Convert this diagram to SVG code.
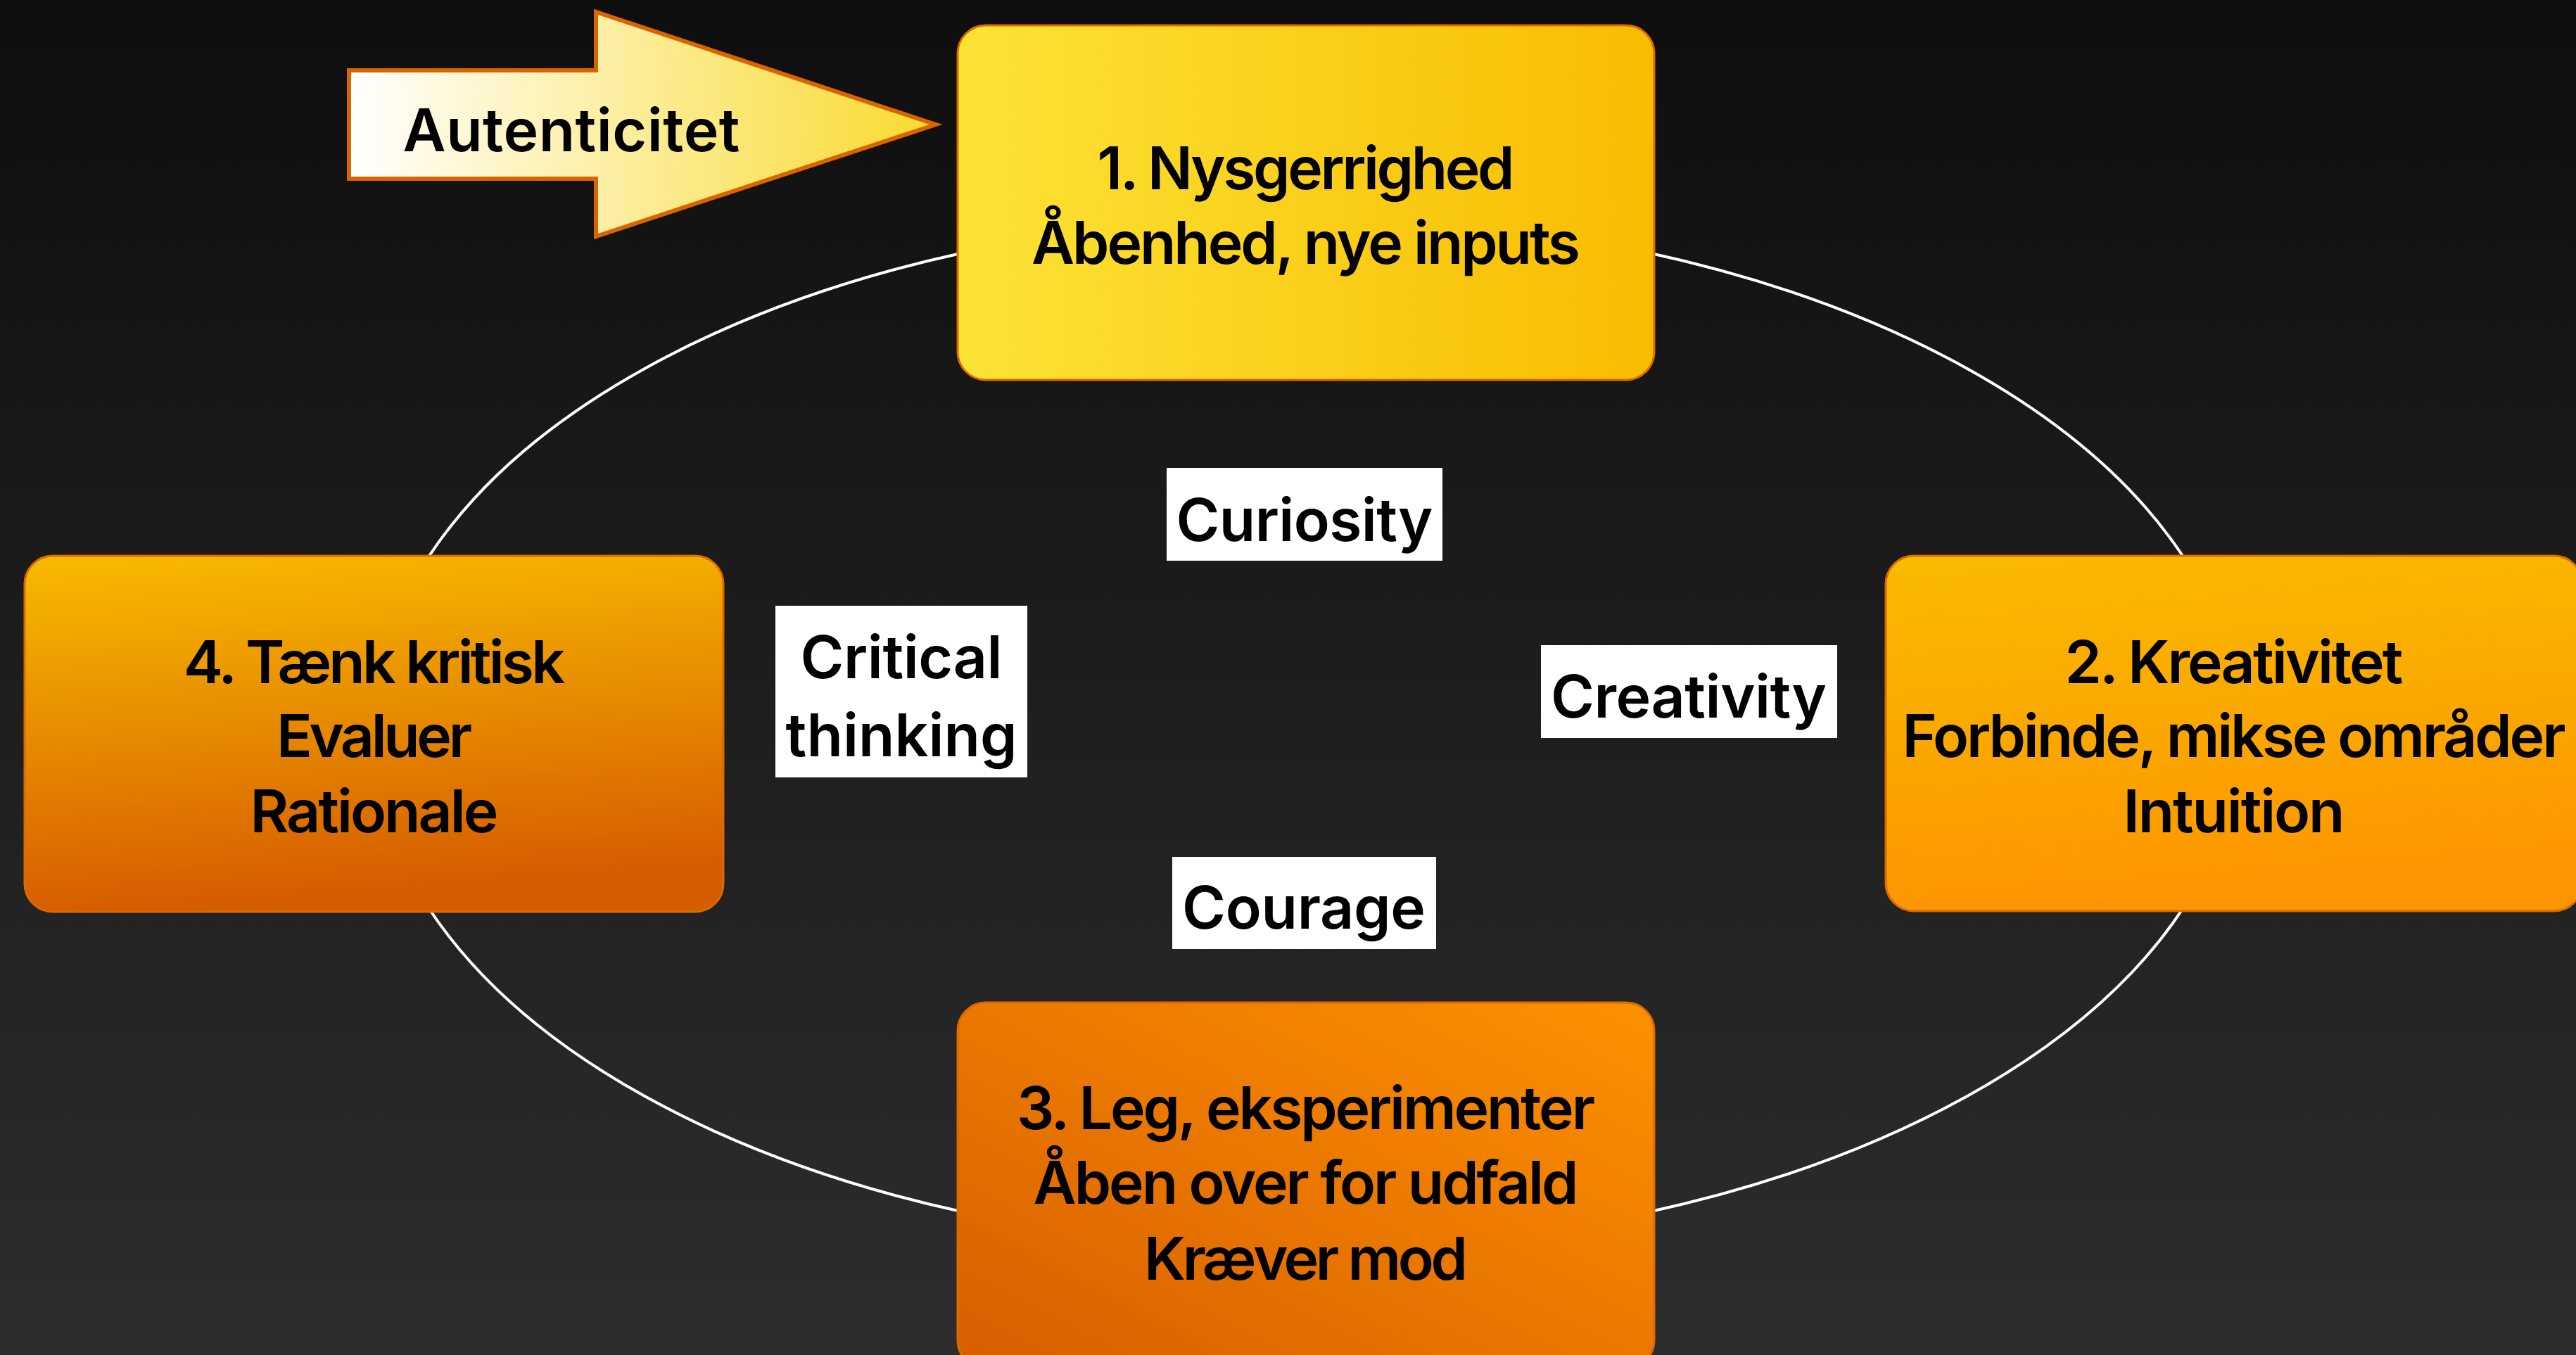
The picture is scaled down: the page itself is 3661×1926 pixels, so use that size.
<svg xmlns="http://www.w3.org/2000/svg" width="3661" height="1926" viewBox="0 0 3661 1926">
<style>
.t{font-family:Inter,"Open Sans","Liberation Sans",sans-serif;font-weight:600;font-size:84px;fill:#000;text-anchor:middle}
.box{stroke:#db6a00;stroke-width:3}
.lbl{fill:#fff}
</style>
<defs>
<linearGradient id="bg" x1="0" y1="0" x2="0" y2="1">
<stop offset="0" stop-color="#0e0e0e"/><stop offset="1" stop-color="#2d2d2d"/>
</linearGradient>
<linearGradient id="g1" x1="0" y1="0" x2="1" y2="0">
<stop offset="0" stop-color="#fce336"/><stop offset="1" stop-color="#f8bc00"/>
</linearGradient>
<linearGradient id="g2" x1="0" y1="0" x2="0.15" y2="1">
<stop offset="0" stop-color="#f9bb00"/><stop offset="1" stop-color="#fd9500"/>
</linearGradient>
<linearGradient id="g3" x1="0" y1="1" x2="1" y2="0">
<stop offset="0" stop-color="#d75e00"/><stop offset="1" stop-color="#fd9100"/>
</linearGradient>
<linearGradient id="g4" x1="0" y1="0" x2="0.15" y2="1">
<stop offset="0" stop-color="#f8bb00"/><stop offset="1" stop-color="#d65c00"/>
</linearGradient>
<linearGradient id="ga" x1="0" y1="0" x2="1" y2="0">
<stop offset="0" stop-color="#ffffff"/><stop offset="1" stop-color="#f9da2e"/>
</linearGradient>
</defs>
<rect width="3661" height="1926" fill="url(#bg)"/>
<g id="connectors">
<ellipse cx="1856" cy="1041" rx="1326" ry="733" fill="none" stroke="#fff" stroke-width="4"/>
</g>
<g id="arrow-autenticitet">
<polygon points="496,100 847,100 847,17 1330,177 847,336 847,254 496,254" fill="url(#ga)" stroke="#d96400" stroke-width="6"/>
<text class="t" x="812" y="215" textLength="479" lengthAdjust="spacing">Autenticitet</text>
</g>
<g id="node1">
<rect class="box" x="1361" y="36" width="990" height="504" rx="40" fill="url(#g1)"/>
<text class="t" x="1856" y="269" textLength="593" lengthAdjust="spacing">1. Nysgerrighed</text>
<text class="t" x="1856" y="375" textLength="780" lengthAdjust="spacing">Åbenhed, nye inputs</text>
</g>
<g id="node2">
<rect class="box" x="2680" y="790" width="990" height="505" rx="40" fill="url(#g2)"/>
<text class="t" x="3175" y="971" textLength="481" lengthAdjust="spacing">2. Kreativitet</text>
<text class="t" x="3175" y="1076" textLength="943" lengthAdjust="spacing">Forbinde, mikse områder</text>
<text class="t" x="3175" y="1183" textLength="315" lengthAdjust="spacing">Intuition</text>
</g>
<g id="node3">
<rect class="box" x="1361" y="1425" width="990" height="520" rx="40" fill="url(#g3)"/>
<text class="t" x="1856" y="1605" textLength="822" lengthAdjust="spacing">3. Leg, eksperimenter</text>
<text class="t" x="1856" y="1711" textLength="775" lengthAdjust="spacing">Åben over for udfald</text>
<text class="t" x="1856" y="1819" textLength="460" lengthAdjust="spacing">Kræver mod</text>
</g>
<g id="node4">
<rect class="box" x="35" y="790" width="993" height="506" rx="40" fill="url(#g4)"/>
<text class="t" x="532" y="971" textLength="542" lengthAdjust="spacing">4. Tænk kritisk</text>
<text class="t" x="532" y="1076" textLength="278" lengthAdjust="spacing">Evaluer</text>
<text class="t" x="532" y="1183" textLength="353" lengthAdjust="spacing">Rationale</text>
</g>
<g id="label-curiosity">
<rect class="lbl" x="1658" y="665" width="392" height="132"/>
<text class="t" x="1854" y="769" textLength="365" lengthAdjust="spacing">Curiosity</text>
</g>
<g id="label-critical">
<rect class="lbl" x="1102" y="861" width="358" height="244"/>
<text class="t" x="1281" y="964" textLength="287" lengthAdjust="spacing">Critical</text>
<text class="t" x="1281" y="1075" textLength="329" lengthAdjust="spacing">thinking</text>
</g>
<g id="label-creativity">
<rect class="lbl" x="2190" y="917" width="421" height="132"/>
<text class="t" x="2400" y="1020" textLength="392" lengthAdjust="spacing">Creativity</text>
</g>
<g id="label-courage">
<rect class="lbl" x="1666" y="1218" width="375" height="131"/>
<text class="t" x="1853" y="1320" textLength="346" lengthAdjust="spacing">Courage</text>
</g>
</svg>
